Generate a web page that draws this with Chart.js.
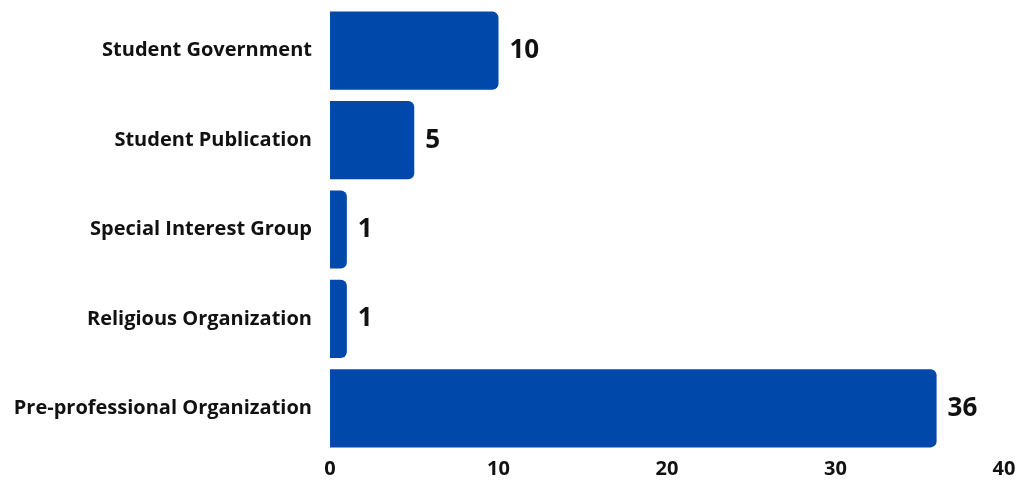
<!DOCTYPE html>
<html>
<head>
<meta charset="utf-8">
<script src="https://cdn.jsdelivr.net/npm/chart.js@4.4.1/dist/chart.umd.min.js"></script>
<style>
  html, body { margin: 0; padding: 0; background: #fff; }
  #wrap { width: 1023px; height: 481px; }
</style>
</head>
<body>
<div id="wrap"><canvas id="grafico"></canvas></div>
<script>
const categories = [
  'Student Government',
  'Student Publication',
  'Special Interest Group',
  'Religious Organization',
  'Pre-professional Organization'
];
const counts = [10, 5, 1, 1, 36];
const xTicks = [0, 10, 20, 30, 40];

const barBlue = '#0049AA';
const fontFamily = '"Open Sans", Lato, sans-serif';

// draws the value next to the end of each bar
const valueLabels = {
  id: 'valueLabels',
  afterDatasetsDraw(chart) {
    const ctx = chart.ctx;
    const meta = chart.getDatasetMeta(0);
    ctx.save();
    ctx.font = 'bold 26px ' + fontFamily;
    ctx.fillStyle = '#111';
    ctx.textAlign = 'left';
    ctx.textBaseline = 'middle';
    meta.data.forEach((bar, i) => {
      ctx.fillText(String(counts[i]), bar.x + 11, bar.y);
    });
    ctx.restore();
  }
};

const grafico = document.getElementById('grafico').getContext('2d');
const myChart = new Chart(grafico, {
  type: 'bar',
  data: {
    labels: categories,
    datasets: [{
      data: counts,
      backgroundColor: barBlue,
      borderRadius: 6,
      barPercentage: 0.93,
      categoryPercentage: 0.94
    }]
  },
  options: {
    indexAxis: 'y',
    responsive: true,
    maintainAspectRatio: false,
    animation: false,
    layout: { padding: { top: 6, right: 19, bottom: 0, left: 0 } },
    plugins: {
      legend: { display: false },
      tooltip: { enabled: false }
    },
    scales: {
      x: {
        min: 0,
        max: 40,
        afterBuildTicks: (scale) => { scale.ticks = xTicks.map(v => ({ value: v })); },
        afterFit: (scale) => {
          scale.height = 28;
          scale.paddingTop = 0;
          scale.paddingBottom = 0;
        },
        grid: { display: false, drawTicks: false },
        border: { display: false },
        ticks: {
          padding: 4,
          color: '#111',
          font: { family: fontFamily, size: 20, weight: 'bold' }
        }
      },
      y: {
        afterFit: (scale) => {
          scale.width = 330;
          scale.paddingTop = 0;
          scale.paddingBottom = 0;
        },
        grid: { display: false, drawTicks: false },
        border: { display: false },
        ticks: {
          padding: 18,
          color: '#111',
          font: { family: fontFamily, size: 20, weight: 'bold' }
        }
      }
    }
  },
  plugins: [valueLabels]
});
</script>
</body>
</html>
